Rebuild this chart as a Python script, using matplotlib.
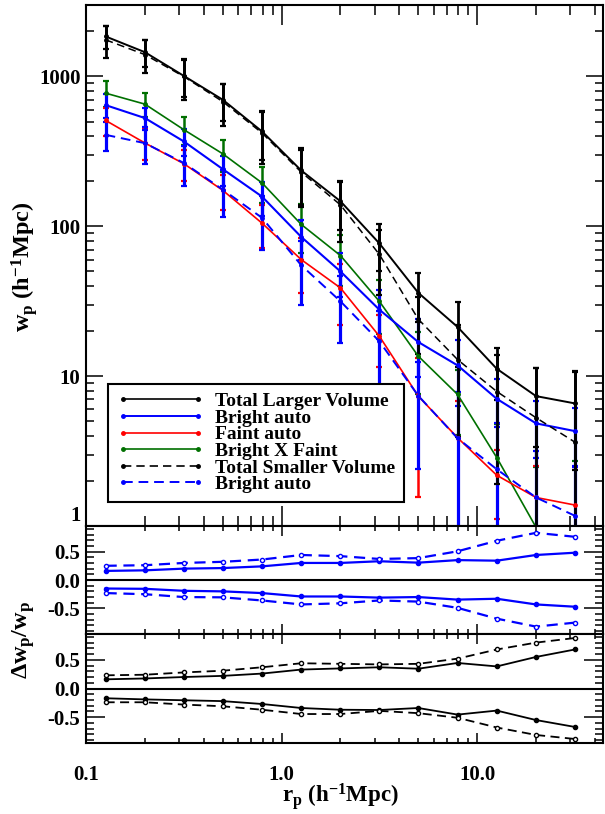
import matplotlib
matplotlib.use("Agg")
import matplotlib.pyplot as plt
from matplotlib.lines import Line2D
from matplotlib.ticker import FixedLocator, LogLocator, MultipleLocator, NullFormatter
import numpy as np

plt.rcParams.update({
    "font.family": "Liberation Serif", "font.weight": "bold",
    "mathtext.fontset": "custom",
    "mathtext.rm": "Liberation Serif:bold",
    "mathtext.it": "Liberation Serif:bold",
    "mathtext.bf": "Liberation Serif:bold",
    "axes.linewidth": 1.5,
    "xtick.direction": "in", "ytick.direction": "in",
    "xtick.top": True, "ytick.right": True,
    "xtick.major.width": 1.1, "ytick.major.width": 1.1,
    "xtick.minor.width": 1.1, "ytick.minor.width": 1.1,
})

# ── Data ────────────────────────────────────────────────────────────────
rp = [0.126, 0.2, 0.316, 0.5, 0.794, 1.26, 2.0, 3.16, 5.0, 7.94, 12.6, 20.0, 31.6]

tot_large = [1850, 1453, 1010, 700, 430, 236, 147, 77, 36, 21.3, 11.2, 7.36, 6.58]
tot_large_err = [330, 300, 280, 195, 155, 97, 53, 27, 13, 9.8, 4.3, 4.0, 4.2]
tot_small = [1757, 1400, 1000, 680, 420, 230, 139, 65, 24, 12.9, 7.9, 5.28, 3.63]
tot_small_err = [420, 350, 300, 210, 160, 95, 60, 30, 10, 9, 6, 6, 7]
bri_large = [644, 528, 369, 241, 158, 85, 50, 27.8, 16.9, 11.8, 7.06, 4.84, 4.30]
bri_large_err = [119, 90, 75, 55, 40, 25, 16, 10, 7, 5.5, 2.5, 2.0, 1.8]
bri_small = [408, 359, 265, 176, 114, 55, 31.6, 17.1, 7.4, 3.85, 2.39, 1.55, 1.17]
bri_small_err = [92, 100, 80, 60, 45, 25, 15, 10, 5, 4, 2.5, 1.6, 1.3]
faint = [509, 360, 262, 174, 105, 60, 38.8, 18.5, 7.36, 3.88, 2.18, 1.55, 1.38]
faint_err = [110, 85, 62, 45, 33, 24, 17, 7, 5.8, 2.9, 1.06, 0.96, 1.08]
bxf = [774, 654, 442, 305, 195, 103, 63.8, 31.6, 13.6, 7.55, 2.86, 0.98, 0.7]
bxf_err = [152, 120, 91, 74, 52, 37, 24, 12.5, 6, 3.5, 1.9, 1.5, 2.0]

# relative errors, bright auto
bri_large_up = [0.16, 0.17, 0.20, 0.21, 0.24, 0.30, 0.30, 0.33, 0.305, 0.35, 0.34, 0.44, 0.48]
bri_large_lo = [-0.15, -0.155, -0.19, -0.20, -0.23, -0.29, -0.29, -0.31, -0.30, -0.345, -0.33, -0.43, -0.47]
bri_small_up = [0.25, 0.26, 0.30, 0.32, 0.36, 0.44, 0.42, 0.37, 0.385, 0.505, 0.69, 0.83, 0.76]
bri_small_lo = [-0.23, -0.25, -0.30, -0.305, -0.36, -0.43, -0.41, -0.36, -0.38, -0.49, -0.68, -0.82, -0.75]
# relative errors, total
tot_large_up = [0.16, 0.175, 0.20, 0.22, 0.26, 0.33, 0.35, 0.37, 0.345, 0.445, 0.385, 0.55, 0.68]
tot_large_lo = [-0.17, -0.19, -0.205, -0.22, -0.27, -0.34, -0.37, -0.375, -0.34, -0.455, -0.385, -0.55, -0.67]
tot_small_up = [0.23, 0.24, 0.28, 0.31, 0.37, 0.44, 0.43, 0.42, 0.43, 0.52, 0.68, 0.80, 0.88]
tot_small_lo = [-0.24, -0.24, -0.28, -0.31, -0.37, -0.445, -0.445, -0.39, -0.43, -0.51, -0.68, -0.81, -0.88]

legend_labels = ["Total Larger Volume", "Bright auto", "Faint auto", "Bright X Faint",
                 "Total Smaller Volume", "Bright auto"]

BLACK = "black"
BLUE = "#0000ff"
RED = "#ff0000"
GREEN = "#007000"

W, H = 605, 814
fig = plt.figure(figsize=(W / 100, H / 100), dpi=100)
left, right = 86 / W, 603 / W


def axes_px(top, bottom):
    return fig.add_axes([left, 1 - bottom / H, right - left, (bottom - top) / H])


ax = axes_px(5, 526)
ax1 = axes_px(526, 634)
ax2 = axes_px(634, 743)

# ── Main panel ──────────────────────────────────────────────────────────
series = [
    (bxf, bxf_err, GREEN, "-", 1.2, 1.8),
    (faint, faint_err, RED, "-", 1.2, 1.8),
    (bri_small, bri_small_err, BLUE, (0, (5, 3)), 1.4, 2.3),
    (bri_large, bri_large_err, BLUE, "-", 1.5, 2.3),
    (tot_small, tot_small_err, BLACK, (0, (5, 3)), 1.1, 2.0),
    (tot_large, tot_large_err, BLACK, "-", 1.4, 2.0),
]
ax.set_yscale("log")
ax.set_xscale("log")
for vals, err, c, ls, lw, elw in series:
    ax.errorbar(rp, vals, yerr=err, color=c, ls=ls, lw=lw, marker="o", ms=2.5,
                elinewidth=elw, capsize=2.3, capthick=1.6)
ax.set_ylim(1, 3000)
ax.yaxis.set_major_locator(FixedLocator([1, 10, 100, 1000]))
ax.set_yticklabels(["1", "10", "100", "1000"])
ax.get_yticklabels()[0].set_va("bottom")
ax.yaxis.set_minor_locator(LogLocator(base=10, subs=np.arange(2, 10)))
ax.yaxis.set_minor_formatter(NullFormatter())
ax.tick_params(axis="y", which="major", length=12, labelsize=15, pad=4)
ax.tick_params(axis="y", which="minor", length=6)
ax.tick_params(axis="x", which="major", length=14.5, labelbottom=False)
ax.tick_params(axis="x", which="minor", length=7.5)

handles = [
    Line2D([], [], color=BLACK, lw=1.2, marker="o", ms=2.5),
    Line2D([], [], color=BLUE, lw=1.4, marker="o", ms=2.5),
    Line2D([], [], color=RED, lw=1.2, marker="o", ms=2.5),
    Line2D([], [], color=GREEN, lw=1.2, marker="o", ms=2.5),
    Line2D([], [], color=BLACK, lw=1.2, ls=(0, (5, 3)), marker="o", ms=2.5),
    Line2D([], [], color=BLUE, lw=1.4, ls=(0, (5, 3)), marker="o", ms=2.5),
]
leg = ax.legend(handles, legend_labels, loc="lower left",
                bbox_to_anchor=(22 / 517, 24 / 521), borderaxespad=0,
                numpoints=2, handlelength=4.5, handletextpad=0.55,
                labelspacing=-0.05, borderpad=0.45, fontsize=14, fancybox=False,
                edgecolor="black", framealpha=1)
leg.get_frame().set_linewidth(1.5)

# ── Ratio panels ────────────────────────────────────────────────────────
ratio = [
    (ax1, [(bri_large_up, bri_large_lo, BLUE, "-", 1.6, True),
           (bri_small_up, bri_small_lo, BLUE, (0, (5, 3)), 1.6, False)]),
    (ax2, [(tot_large_up, tot_large_lo, BLACK, "-", 1.3, True),
           (tot_small_up, tot_small_lo, BLACK, (0, (5, 3)), 1.3, False)]),
]
for a, lines in ratio:
    a.set_xscale("log")
    a.axhline(0, color="black", lw=1.5, zorder=1)
    for up, lo, c, ls, lw, filled in lines:
        for v in (up, lo):
            a.plot(rp, v, color=c, ls=ls, lw=lw, marker="o", ms=3,
                   mfc=c if filled else "white", mec=c, mew=1)
    a.set_ylim(-0.95, 0.95)
    a.yaxis.set_major_locator(FixedLocator([-0.5, 0.0, 0.5]))
    a.set_yticklabels(["-0.5", "0.0", "0.5"])
    a.yaxis.set_minor_locator(MultipleLocator(0.1))
    a.tick_params(axis="y", which="major", length=14, labelsize=15, pad=4)
    a.tick_params(axis="y", which="minor", length=6)
    a.tick_params(axis="x", which="major", length=7.5)
    a.tick_params(axis="x", which="minor", length=3.8)

ax1.tick_params(axis="x", labelbottom=False)

for a in (ax, ax1, ax2):
    a.set_xlim(0.1, 44)
    a.xaxis.set_major_locator(FixedLocator([0.1, 1.0, 10.0]))
    a.xaxis.set_minor_locator(LogLocator(base=10, subs=np.arange(2, 10)))
    a.xaxis.set_minor_formatter(NullFormatter())
ax2.set_xticklabels(["0.1", "1.0", "10.0"])
ax2.tick_params(axis="x", labelsize=15, pad=16)

fig.text(340 / W, 1 - 797 / H, r"r$_\mathrm{p}$ (h$^\mathrm{-1}$Mpc)",
         ha="center", va="center", fontsize=16.5)
fig.text(24 / W, 1 - 267 / H, r"w$_\mathrm{p}$ (h$^\mathrm{-1}$Mpc)",
         ha="center", va="center", fontsize=17.5, rotation=90)
fig.text(24 / W, 1 - 640 / H, r"Δw$_\mathrm{p}$/w$_\mathrm{p}$",
         ha="center", va="center", fontsize=17.5, rotation=90)

fig.savefig("out.png", dpi=100)
